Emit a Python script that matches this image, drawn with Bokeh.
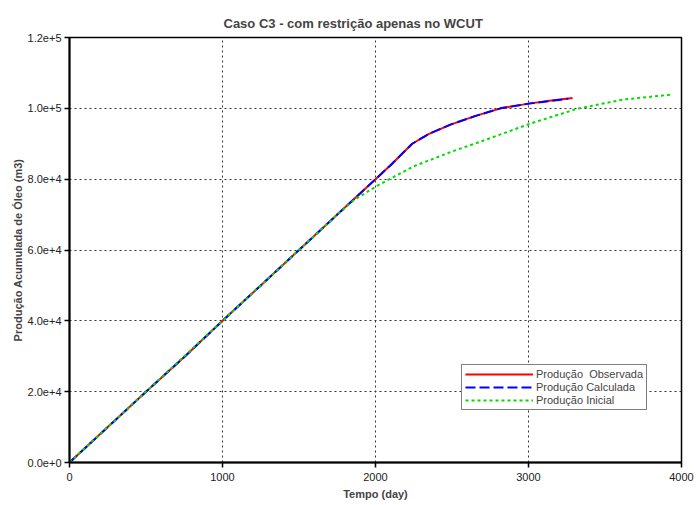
from bokeh.plotting import figure
from bokeh.models import CustomJSTickFormatter, FixedTicker, Legend, LegendItem, Range1d
from bokeh.embed import file_html
from bokeh.resources import INLINE

# data
obs_t = [0, 250, 500, 750, 1000, 1250, 1500, 1750, 2000, 2100, 2240, 2350, 2490, 2650, 2817, 3013, 3150, 3288]
obs_v = [0, 10000, 20000, 29800, 40000, 50000, 60000, 70000, 80000, 84000, 90000, 92800, 95400, 97800, 100000, 101400, 102200, 102900]
calc_t = [0, 250, 500, 750, 1000, 1250, 1500, 1750, 2000, 2100, 2240, 2350, 2490, 2650, 2817, 3013, 3150, 3260]
calc_v = [0, 10000, 20000, 29800, 40000, 50000, 60000, 70000, 80000, 84000, 90000, 92800, 95400, 97800, 100000, 101400, 102100, 102700]
init_t = [0, 500, 1000, 1500, 1750, 1856, 2013, 2248, 2500, 2706, 3013, 3320, 3621, 3941]
init_v = [0, 20000, 40000, 60000, 70000, 74000, 78200, 83600, 87800, 90900, 95700, 99900, 102500, 103900]

x_ticks = [0, 1000, 2000, 3000, 4000]
y_ticks = [0, 20000, 40000, 60000, 80000, 100000, 120000]

FONT = "Liberation Sans"

p = figure(width=696, height=505, output_backend="svg", toolbar_location=None,
           x_range=Range1d(0, 4000), y_range=Range1d(0, 120000),
           min_border_left=69, min_border_right=15, min_border_top=37, min_border_bottom=43)

p.title.text = "Caso C3 - com restrição apenas no WCUT"
p.title.text_font = FONT
p.title.text_font_size = "13px"
p.title.text_font_style = "bold"
p.title.align = "left"
p.title.offset = 154
p.title.standoff = 14

p.outline_line_color = "black"
p.outline_line_width = 1.5
p.outline_line_alpha = 1

for ax in (p.xaxis[0], p.yaxis[0]):
    ax.axis_line_width = 2
    ax.axis_line_color = "black"
    ax.major_tick_line_color = "black"
    ax.major_tick_line_width = 1.5
    ax.major_tick_out = 5
    ax.major_tick_in = 0
    ax.minor_tick_line_color = None
    ax.major_label_text_font = FONT
    ax.major_label_text_font_size = "11px"
    ax.major_label_text_color = "#222222"
    ax.axis_label_text_font = FONT
    ax.axis_label_text_font_size = "11px"
    ax.axis_label_text_font_style = "bold"
    ax.major_label_standoff = 3

p.xaxis[0].ticker = FixedTicker(ticks=x_ticks)
p.yaxis[0].ticker = FixedTicker(ticks=y_ticks)
p.yaxis[0].formatter = CustomJSTickFormatter(code="return tick.toExponential(1);")
p.xaxis[0].axis_label = "Tempo (day)"
p.yaxis[0].axis_label = "Produção Acumulada de Óleo (m3)"
p.xaxis[0].major_label_standoff = 5
p.xaxis[0].axis_label_standoff = 4
p.yaxis[0].axis_label_standoff = 1

for g in (p.xgrid[0], p.ygrid[0]):
    g.grid_line_color = "#333333"
    g.grid_line_dash = "2 3"
    g.grid_line_width = 1

r1 = p.line(obs_t, obs_v, line_color="#ff0000", line_width=2)
r2 = p.line(calc_t, calc_v, line_color="#0000ff", line_width=2, line_dash="10 4")
r3 = p.line(init_t, init_v, line_color="#00dd00", line_width=2, line_dash="3 3")

legend = Legend(items=[
    LegendItem(label="Produção  Observada", renderers=[r1]),
    LegendItem(label="Produção Calculada", renderers=[r2]),
    LegendItem(label="Produção Inicial", renderers=[r3]),
], location=(392, 52))
legend.label_text_font = FONT
legend.label_text_font_size = "11px"
legend.label_height = 12
legend.glyph_height = 12
legend.glyph_width = 68
legend.spacing = 1
legend.padding = 3
legend.margin = 0
legend.label_standoff = 3
legend.border_line_color = "black"
legend.border_line_width = 1
legend.background_fill_alpha = 1
p.add_layout(legend, "center")

open("out.html", "w").write(file_html(p, INLINE))
